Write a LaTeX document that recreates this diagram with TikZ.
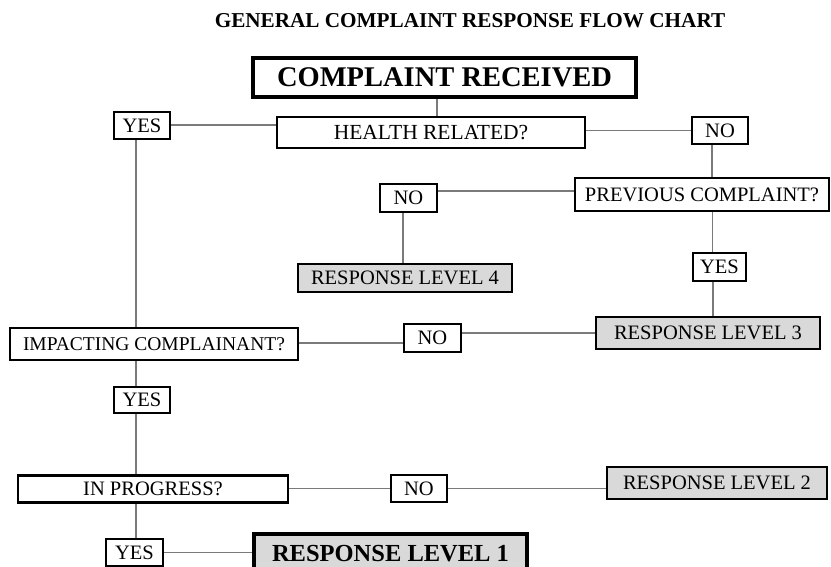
\documentclass[tikz,border=0pt]{standalone}
\usepackage{fontspec}
\setmainfont{Liberation Serif}
\begin{document}
\begin{tikzpicture}[x=1pt,y=-1pt,
  box/.style={draw=black,line width=2.6pt,fill=white,inner sep=0pt,
    font=\fontsize{20.5}{24}\selectfont},
  grey/.style={box,fill=black!15},
  heavy/.style={draw=black,line width=4.5pt,fill=white,inner sep=0pt,
    font=\fontsize{28.5}{32}\selectfont\bfseries},
  conn/.style={draw=black!52,line width=1.9pt}]
\useasboundingbox (0,0) rectangle (831,567);

\node[font=\fontsize{21.2}{26}\selectfont\bfseries] (title) at (470,20.5)
  {GENERAL COMPLAINT RESPONSE FLOW CHART};

% decision and answer boxes
\node[heavy,minimum width=383,minimum height=39] (CR) at (444.5,77.5) {COMPLAINT RECEIVED};
\node[box,minimum width=308,minimum height=31,font=\fontsize{21.5}{24}\selectfont] (HR) at (431,132.5) {HEALTH RELATED?};
\node[box,minimum width=56,minimum height=27] (Y1) at (142,125.5) {YES};
\node[box,minimum width=56,minimum height=27] (N1) at (720,130.5) {NO};
\node[box,minimum width=254,minimum height=33] (PC) at (702,194.5) {PREVIOUS COMPLAINT?};
\node[box,minimum width=57,minimum height=28] (N2) at (408.5,198) {NO};
\node[grey,minimum width=214,minimum height=28] (R4) at (405,278) {RESPONSE LEVEL 4};
\node[box,minimum width=53,minimum height=28] (Y2) at (719.5,267) {YES};
\node[grey,minimum width=224,minimum height=32] (R3) at (708,333) {RESPONSE LEVEL 3};
\node[box,minimum width=288,minimum height=32,font=\fontsize{19.5}{24}\selectfont] (IC) at (154,344) {IMPACTING COMPLAINANT?};
\node[box,minimum width=57,minimum height=28] (N3) at (432.5,338) {NO};
\node[box,minimum width=56,minimum height=26] (Y3) at (142,400) {YES};
\node[box,minimum width=270,minimum height=27] (IP) at (153,489) {IN PROGRESS?};
\node[box,minimum width=56,minimum height=27] (N4) at (419,488.5) {NO};
\node[grey,minimum width=220,minimum height=32] (R2) at (717,483) {RESPONSE LEVEL 2};
\node[box,minimum width=57,minimum height=27] (Y4) at (134.5,552.5) {YES};
\node[heavy,fill=black!15,minimum width=273,minimum height=40,
  font=\fontsize{24.5}{28}\selectfont\bfseries] (R1) at (390.5,554) {RESPONSE LEVEL 1};

% connectors (yshift is in page units, so positive moves up)
\draw[conn] ([xshift=-7.5]CR.south) -- ([xshift=-7.5]CR.south |- HR.north);
\draw[conn] ([yshift=0.5]Y1.east) -- ([yshift=0.5]Y1.east -| HR.west);
\draw[conn] (N1.west) -- (N1.west -| HR.east);
\draw[conn] ([xshift=-6]Y1.south) -- ([xshift=-6]Y1.south |- IC.north);
\draw[conn] ([xshift=-8]N1.south) -- ([xshift=-8]N1.south |- PC.north);
\draw[conn] ([yshift=7]N2.east) -- ([yshift=7]N2.east -| PC.west);
\draw[conn] ([xshift=-5.5]N2.south) -- ([xshift=-5.5]N2.south |- R4.north);
\draw[conn] ([xshift=-7]Y2.north) -- ([xshift=-7]Y2.north |- PC.south);
\draw[conn] ([xshift=-6.5]Y2.south) -- ([xshift=-6.5]Y2.south |- R3.north);
\draw[conn] ([yshift=5]N3.east) -- ([yshift=5]N3.east -| R3.west);
\draw[conn] ([yshift=-5]N3.west) -- ([yshift=-5]N3.west -| IC.east);
\draw[conn] ([xshift=-6]Y3.north) -- ([xshift=-6]Y3.north |- IC.south);
\draw[conn] ([xshift=-6]Y3.south) -- ([xshift=-6]Y3.south |- IP.north);
\draw[conn] (N4.west) -- (N4.west -| IP.east);
\draw[conn] (N4.east) -- (N4.east -| R2.west);
\draw[conn] ([xshift=1.5]Y4.north) -- ([xshift=1.5]Y4.north |- IP.south);
\draw[conn] (Y4.east) -- (Y4.east -| R1.west);
\end{tikzpicture}
\end{document}
